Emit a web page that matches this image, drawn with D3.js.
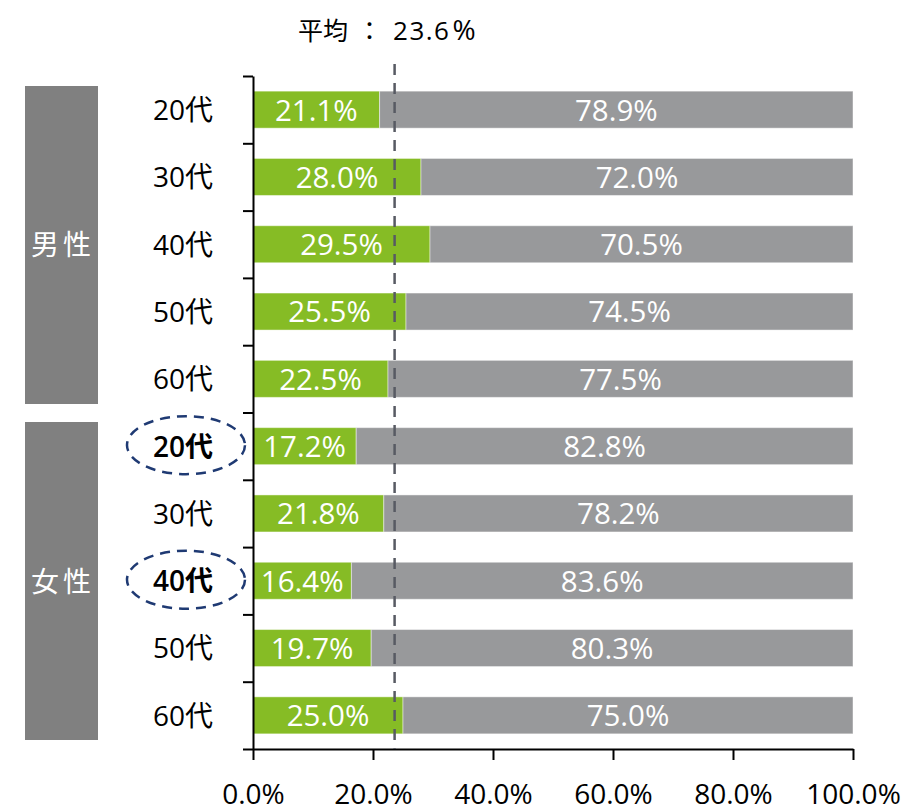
<!DOCTYPE html>
<html>
<head>
<meta charset="utf-8">
<script src="https://cdn.jsdelivr.net/npm/d3@7"></script>
<style>
  html, body { margin: 0; padding: 0; background: #fff; }
  svg { display: block; }
  text { font-family: "Open Sans", "Noto Sans CJK JP", sans-serif; }
</style>
</head>
<body>
<svg id="chart" width="906" height="811"></svg>
<script>
// Share of respondents by sex and age group (percent)
const groups = ["男性", "女性"];
const ages = ["20代", "30代", "40代", "50代", "60代"];
const yesMale = [21.1, 28.0, 29.5, 25.5, 22.5];
const yesFemale = [17.2, 21.8, 16.4, 19.7, 25.0];
const noMale = [78.9, 72.0, 70.5, 74.5, 77.5];
const noFemale = [82.8, 78.2, 83.6, 80.3, 75.0];
const average = 23.6;
const averageCaption = "平均";
const xTicks = [0, 20, 40, 60, 80, 100];
const highlighted = ["女性-20代", "女性-40代"];

const rows = [];
groups.forEach((g, gi) => {
  const yes = gi === 0 ? yesMale : yesFemale;
  const no = gi === 0 ? noMale : noFemale;
  ages.forEach((a, ai) => rows.push({ key: g + "-" + a, group: g, age: a, yes: yes[ai], no: no[ai] }));
});

const svg = d3.select("#chart");
const plotLeft = 253, plotRight = 853, plotTop = 76, plotBottom = 749;

const x = d3.scaleLinear().domain([0, 100]).range([plotLeft, plotRight]);
const y = d3.scaleBand().domain(rows.map(d => d.key)).range([plotTop, plotBottom])
  .paddingInner(0.45).paddingOuter(0.225);
const yb = d3.scaleLinear().domain([0, rows.length]).range([plotTop, plotBottom]);

const green = "#86bc25", gray = "#98999b";

// Stacked bars
const bar = svg.append("g").selectAll("g").data(rows).join("g");
bar.append("rect")
  .attr("x", x(0)).attr("y", d => y(d.key))
  .attr("width", d => x(d.yes) - x(0)).attr("height", y.bandwidth())
  .attr("fill", green).attr("stroke", "rgba(255,255,255,0.45)").attr("stroke-width", 1);
bar.append("rect")
  .attr("x", d => x(d.yes)).attr("y", d => y(d.key))
  .attr("width", d => x(d.yes + d.no) - x(d.yes)).attr("height", y.bandwidth())
  .attr("fill", gray).attr("stroke", "rgba(255,255,255,0.45)").attr("stroke-width", 1);

// Value labels
bar.append("text")
  .attr("x", d => (x(0) + x(d.yes)) / 2)
  .attr("y", d => y(d.key) + y.bandwidth() / 2)
  .attr("dy", "0.37em").attr("text-anchor", "middle")
  .attr("fill", "#fff").attr("font-size", 29.5)
  .text(d => d.yes.toFixed(1) + "%");
bar.append("text")
  .attr("x", d => (x(d.yes) + x(d.yes + d.no)) / 2)
  .attr("y", d => y(d.key) + y.bandwidth() / 2)
  .attr("dy", "0.37em").attr("text-anchor", "middle")
  .attr("fill", "#fff").attr("font-size", 29.5)
  .text(d => d.no.toFixed(1) + "%");

// Left axis with ticks at row boundaries
const yAxis = svg.append("g").attr("transform", `translate(${plotLeft},0)`)
  .call(d3.axisLeft(yb).tickValues(d3.range(rows.length + 1)).tickFormat("").tickSize(10).tickSizeOuter(0));
yAxis.selectAll("path, line").attr("stroke", "#000").attr("stroke-width", 2);

// Bottom axis
const xAxis = svg.append("g").attr("transform", `translate(0,${plotBottom})`)
  .call(d3.axisBottom(x).tickValues(xTicks).tickFormat(d => d.toFixed(1) + "%").tickSize(11).tickSizeOuter(0).tickPadding(24));
xAxis.selectAll("path, line").attr("stroke", "#000").attr("stroke-width", 2);
xAxis.selectAll("text").attr("font-size", 28).attr("fill", "#000")
  .style("font-family", "'Open Sans', sans-serif");

// Age labels
svg.append("g").selectAll("text").data(rows).join("text")
  .attr("x", 213).attr("y", d => y(d.key) + y.bandwidth() / 2)
  .attr("dy", "0.37em").attr("text-anchor", "end")
  .attr("font-size", 28).attr("fill", "#000")
  .attr("font-weight", d => highlighted.includes(d.key) ? 600 : "normal")
  .text(d => d.age);

// Dashed ellipses around highlighted rows
svg.append("g").selectAll("ellipse").data(rows.filter(d => highlighted.includes(d.key))).join("ellipse")
  .attr("cx", 186).attr("cy", d => y(d.key) + y.bandwidth() / 2 - 1)
  .attr("rx", 59).attr("ry", 29)
  .attr("fill", "none").attr("stroke", "#1f3a73").attr("stroke-width", 2.5)
  .attr("stroke-dasharray", "10,7");

// Group boxes
const groupBox = svg.append("g").selectAll("g").data(groups).join("g");
groupBox.append("rect")
  .attr("x", 25).attr("width", 73)
  .attr("y", (d, i) => yb(i * 5) + (i === 0 ? 10 : 9.5))
  .attr("height", (d, i) => yb(i * 5 + 5) - yb(i * 5) - 18.5)
  .attr("fill", "#808080");
groupBox.append("text")
  .attr("x", 63).attr("y", (d, i) => (yb(i * 5) + yb(i * 5 + 5)) / 2 + 1)
  .attr("dy", "0.36em").attr("text-anchor", "middle")
  .attr("fill", "#fff").attr("font-size", 28).attr("letter-spacing", 4)
  .text(d => d);

// Average reference line
svg.append("line")
  .attr("x1", x(average)).attr("x2", x(average))
  .attr("y1", 64).attr("y2", plotBottom)
  .attr("stroke", "#575a63").attr("stroke-width", 2.5)
  .attr("stroke-dasharray", "11,8");

const avgText = svg.append("text")
  .attr("x", 298).attr("y", 40).attr("fill", "#000");
avgText.append("tspan")
  .style("font-family", "'Noto Sans CJK JP', sans-serif").attr("font-size", 25)
  .text(averageCaption);
avgText.append("tspan")
  .attr("dx", 9)
  .style("font-family", "'Noto Sans CJK JP', sans-serif").attr("font-size", 25)
  .text("：");
avgText.append("tspan")
  .attr("dx", 11)
  .style("font-family", "'Open Sans', sans-serif").attr("font-size", 26).attr("letter-spacing", 1.5)
  .text(average.toFixed(1));
avgText.append("tspan")
  .attr("dx", 2)
  .style("font-family", "'Open Sans', sans-serif").attr("font-size", 28)
  .text("%");
</script>
</body>
</html>
